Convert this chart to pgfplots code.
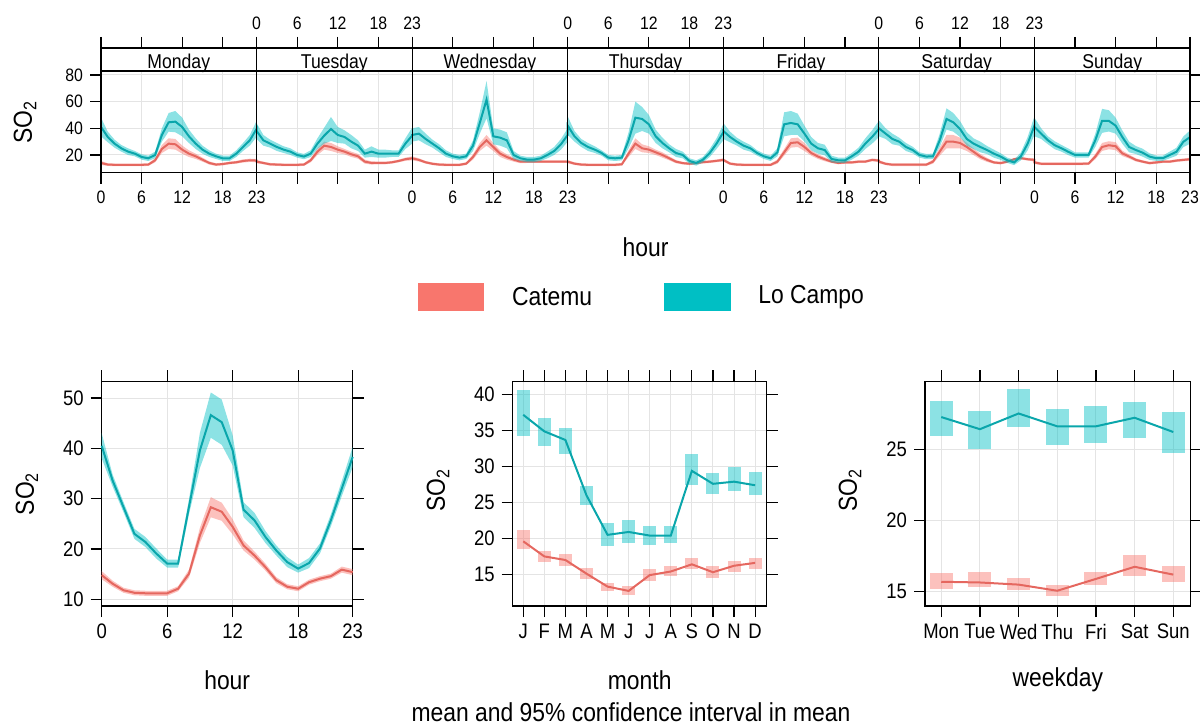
\documentclass[border=0pt]{standalone}
\usepackage{fontspec}
\setmainfont{Liberation Sans}[FakeStretch=0.88]
\usepackage{pgfplots}
\usepackage{pgfplotstable}
\pgfplotsset{compat=1.18}

\definecolor{catemu}{HTML}{F8766D}
\definecolor{catemuline}{HTML}{E5675F}
\definecolor{locampo}{HTML}{00BFC4}
\definecolor{locampoline}{HTML}{0AA6AB}
\definecolor{gridgray}{HTML}{E4E4E4}

\newcommand{\smalltick}{\fontsize{9}{10}\selectfont}
\newcommand{\bigtick}{\fontsize{10.5}{12}\selectfont}
\newcommand{\stripfont}{\fontsize{10}{11}\selectfont}
\newcommand{\labfont}{\fontsize{13}{15}\selectfont}

% week x hour: x = 23*day + hour
\pgfplotstableread{
x lc lce ca cae
0 41 7 14 1.5
1 33.5 4 12.8 1
2 28.5 3 12.6 1
3 25 2.5 12.6 1
4 22.5 2.5 12.6 1
5 21 2 12.6 1
6 18.5 2 12.6 1
7 17.5 2 12.8 1
8 20 2.5 16 1.5
9 35 5 24.5 3
10 44.5 7 28.5 4
11 45 8 28 4
12 41 7 24 3
13 34 5 21 2.5
14 28.5 4 19 2
15 24 3 16.5 1.5
16 21 2.5 14 1.2
17 19 2 12.8 1
18 17.5 2 13.2 1
19 17.5 2 14 1
20 21 2.5 14.5 1
21 26 3 15.5 1.2
22 31 4 16 1.2
23 39.5 6 15.8 1.2
23 38 6 15 1.2
24 31 4 14 1
25 28.5 3 13 1
26 26 3 12.8 1
27 24 2.5 12.6 1
28 22.5 2.5 12.6 1
29 20 2 12.6 1
30 18.8 2 12.8 1
31 21 2.5 16 1.5
32 28.5 4 22.5 2.5
33 34.5 6 27 3
34 39.5 9 26 3
35 35 6 24 2.5
36 33.5 5 22.5 2
37 30 5 20.5 2
38 27 4 19 1.8
39 21 3 15 1.5
40 22.5 4 14 1.2
41 21 3 14 1
42 21 3 14 1
43 21 2.5 14.5 1
44 21 2.5 15.5 1
45 28.5 4 16.8 1.2
46 34.5 6 17.5 1.5
46 35 5 17.5 1.5
47 36 5 16.3 1.2
48 32 4 14.5 1
49 28.5 3 13.4 1
50 25 3 12.8 1
51 21 2.5 12.6 1
52 19 2 12.6 1
53 18 2 12.6 1
54 19 2 13.5 1
55 27 4 18.5 2
56 44 8 26 3
57 61.5 14 31 4
58 34 6 26 3
59 33 6 21 2.5
60 31 6 18.5 2
61 20 3 16.5 1.5
62 17.5 2 15 1.2
63 16.5 2 15 1
64 16.5 2 15 1
65 17.5 2 15 1
66 20 2.5 15 1
67 23 3 15 1
68 28 4 15 1
69 35 5 15 1
69 42 7 15 1.2
70 34 4 13.5 1
71 29 3 12.8 1
72 26 3 12.6 1
73 24 2.5 12.6 1
74 21.5 2 12.6 1
75 18 2 12.6 1
76 17.5 2 12.6 1
77 18 2 13 1
78 31 6 21 2.5
79 48 12 28.5 4
80 47 9 25 3
81 43 7 24 2.5
82 34 5 22 2
83 29 4 20 2
84 25 3 17.5 1.5
85 21.5 3 15 1.2
86 20 2.5 13.9 1
87 15.5 2 13.4 1
88 14 2 13.9 1
89 16.5 2 14.6 1
90 21.5 3 15 1
91 28.5 4 15.6 1
92 37 6 16.3 1.2
92 38 6 16.3 1.2
93 33.5 4 13.5 1
94 30 3 12.8 1
95 27 3 12.6 1
96 25 2.5 12.6 1
97 21.5 2 12.6 1
98 19 2 12.6 1
99 17.5 2 12.6 1
100 22 3 15 1.5
101 43 9 22 2.5
102 44 9 29 3.5
103 43 8 29.5 3.5
104 36 6 26 3
105 28.5 5 21.5 2
106 25 4 18.8 1.8
107 23.7 4 16.8 1.5
108 17 2.5 15 1
109 16 2 14 1
110 16 2 14.4 1
111 19 2.5 14.4 1
112 22.5 3 15 1
113 28.5 4 15 1
114 33.5 5 16.3 1
115 39.5 6 15.8 1.2
115 40 6 15 1.2
116 36 4 13.4 1
117 32 4 12.7 1
118 30 3 12.7 1
119 26 3 12.7 1
120 23.7 2.5 12.7 1
121 20 2 12.7 1
122 18.8 2 12.7 1
123 19 2 15 1.5
124 31 5 22.5 3
125 47 8 30 5
126 44.5 7 30 5
127 39.5 6 29 4
128 32 5 26 3
129 28.5 4 22.4 2.5
130 26 4 18.8 2
131 23.7 3 16.3 1.5
132 21 3 14.4 1
133 18.8 2.5 13.9 1
134 16 2 15 1
135 14.4 2 16.8 1
136 19 3 17.6 1
137 28.5 5 16.8 1
138 42 7 16.3 1.2
138 41 7 14.4 1.2
139 36 4 13.4 1
140 31 3 13.4 1
141 27.3 3 13.4 1
142 25 2.5 13.4 1
143 22.4 2.5 13.4 1
144 20 2 13.4 1
145 20 2 13.4 1
146 20 2 13.5 1
147 31 5 18.8 2
148 45.6 9 26 3
149 45.6 8 27.3 3
150 42 6 26.6 3
151 33.4 5 21.2 2
152 26 4 18.8 1.5
153 23.7 3 16.3 1.2
154 21.7 3 15 1
155 18.8 2.5 13.9 1
156 17.6 2 14.4 1
157 17.6 2 15 1
158 20 2.5 15 1
159 22.4 3 15.8 1
160 29.8 4 16.3 1
161 33.4 5 16.8 1.2
}\week

\pgfplotstableread{
h lc lce ca cae
0 40.5 2.5 14.8 0.8
1 33.6 1.2 13.1 0.6
2 28.3 1 11.8 0.5
3 23 1 11.3 0.5
4 21.4 1 11.2 0.5
5 19.1 1 11.2 0.5
6 17.1 0.8 11.2 0.5
7 17.1 0.8 12.1 0.5
8 28.4 1.5 15.1 0.8
9 39.6 3.5 22.7 1.5
10 46.6 4.5 28.3 2
11 45.2 4.5 27.4 1.8
12 39.6 3 24.4 1.5
13 27.8 1.5 20.7 1
14 25.7 1.5 18.7 0.8
15 22.4 1.2 16.4 0.7
16 19.7 1 13.8 0.6
17 17.4 1 12.5 0.5
18 16.1 0.8 12.1 0.5
19 17.2 1 13.4 0.5
20 20.1 1 14.1 0.5
21 25.7 1.2 14.6 0.5
22 32 1.5 15.9 0.6
23 38.3 2 15.4 0.6
}\hours

\pgfplotstableread{
m lc lclo lchi ca calo cahi
1 37.2 34.3 40.7 19.6 18.5 21.2
2 34.9 32.8 36.8 17.5 16.7 18.2
3 33.7 31.7 35.4 17.0 16.2 17.8
4 26.0 24.7 27.3 15.1 14.4 15.9
5 20.5 19.0 22.2 13.3 12.7 13.8
6 20.9 19.4 22.5 12.7 12.1 13.4
7 20.4 19.1 21.7 14.9 14.1 15.8
8 20.4 19.4 21.7 15.4 14.8 16.2
9 29.4 27.5 31.7 16.4 15.7 17.3
10 27.6 26.2 29.1 15.3 14.5 16.2
11 27.9 26.6 29.9 16.2 15.4 16.9
12 27.4 26.0 29.2 16.6 15.8 17.3
}\months

\pgfplotstableread{
d lc lclo lchi ca calo cahi
1 27.25 25.9 28.4 15.7 15.2 16.3
2 26.4 25.0 27.7 15.65 15.3 16.4
3 27.5 26.55 29.2 15.5 15.1 15.95
4 26.6 25.3 27.8 15.07 14.7 15.5
5 26.6 25.4 28.0 15.9 15.5 16.4
6 27.2 25.8 28.3 16.75 16.1 17.6
7 26.2 24.76 27.6 16.2 15.7 16.8
}\weekdays

\pgfplotsset{
  panel/.style={
    scale only axis, anchor=south west, clip=false, no markers,
    axis line style={line width=0.6pt},
    tick align=outside, major tick length=5.5pt,
    tick style={black, line width=0.6pt},
    grid=major, grid style={gridgray, line width=0.5pt},
    /pgf/number format/assume math mode=true,
    ylabel={SO\textsubscript{2}},
    label style={font=\labfont},
    xlabel style={at={(axis description cs:0.5,-0.33)}, anchor=center},
  },
  bottompanel/.style={panel, height=112.3pt, ticklabel style={font=\bigtick}},
  boxes/.style 2 args={only marks, mark size=0.01pt,
    mark options={draw opacity=0, fill opacity=0}, forget plot,
    error bars/.cd, y dir=both, y explicit, error mark=none,
    error bar style={draw=#1, opacity=0.45, line width=#2}, /pgfplots/.cd},
}

\begin{document}
\begin{tikzpicture}
\useasboundingbox (0,0) rectangle (600pt,362.5pt);

% ---------- top: hour by weekday ----------
\begin{axis}[panel, at={(50.5pt,276.15pt)}, width=544.5pt, height=62.35pt,
  xmin=0, xmax=161, ymin=6.7, ymax=100.25,
  ticklabel style={font=\smalltick},
  xtick={0,6,12,18,23,29,35,41,46,52,58,64,69,75,81,87,92,98,104,110,115,121,127,133,138,144,150,156,161},
  xticklabels={0,6,12,18,23,,,,0,6,12,18,23,,,,0,6,12,18,23,,,,0,6,12,18,23},
  ytick={20,40,60,80},
  xlabel={hour},
  xlabel style={at={(axis description cs:0.5,-0.596)}, anchor=center},
  ylabel style={at={(axis description cs:-0.0698,0.4066)}, anchor=center},
]
% bands as stacked areas: lower edge, then width
\addplot[draw=none, stack plots=y, forget plot] table[x=x, y expr=\thisrow{ca}-\thisrow{cae}] {\week};
\addplot[draw=none, fill=catemu, fill opacity=0.45, stack plots=y, forget plot] table[x=x, y expr=2*\thisrow{cae}] {\week} \closedcycle;
\addplot[catemuline, line width=1pt, forget plot] table[x=x, y=ca] {\week};
\addplot[draw=none, stack plots=y, forget plot] table[x=x, y expr=\thisrow{lc}-\thisrow{lce}-\thisrow{ca}-\thisrow{cae}] {\week};
\addplot[draw=none, fill=locampo, fill opacity=0.45, stack plots=y, forget plot] table[x=x, y expr=2*\thisrow{lce}] {\week} \closedcycle;
\addplot[locampoline, line width=1pt, forget plot] table[x=x, y=lc] {\week};

% strip with day names
\fill[white] (axis cs:0,83) rectangle (axis cs:161,100.25);
\draw[line width=0.6pt] (axis cs:0,83) -- (axis cs:161,83);
\pgfplotsinvokeforeach{23,46,69,92,115,138}{
  \draw[line width=0.6pt] (axis cs:#1,6.7) -- (axis cs:#1,100.25);}
\draw[line width=0.6pt] (axis cs:0,6.7) rectangle (axis cs:161,100.25);
\node[font=\stripfont, anchor=base] at (axis cs:11.5,85) {Monday};
\node[font=\stripfont, anchor=base] at (axis cs:34.5,85) {Tuesday};
\node[font=\stripfont, anchor=base] at (axis cs:57.5,85) {Wednesday};
\node[font=\stripfont, anchor=base] at (axis cs:80.5,85) {Thursday};
\node[font=\stripfont, anchor=base] at (axis cs:103.5,85) {Friday};
\node[font=\stripfont, anchor=base] at (axis cs:126.5,85) {Saturday};
\node[font=\stripfont, anchor=base] at (axis cs:149.5,85) {Sunday};
\end{axis}

% top tick labels of the alternate panels
\begin{axis}[scale only axis, anchor=south west, at={(50.5pt,276.15pt)},
  width=544.5pt, height=62.35pt,
  xmin=0, xmax=161, ymin=6.7, ymax=100.25,
  axis x line*=top, axis y line=none,
  axis line style={line width=0.6pt},
  tick align=outside, major tick length=5.5pt,
  tick style={black, line width=0.6pt},
  ticklabel style={font=\smalltick},
  /pgf/number format/assume math mode=true,
  xtick={23,29,35,41,46,69,75,81,87,92,115,121,127,133,138},
  xticklabels={0,6,12,18,23,0,6,12,18,23,0,6,12,18,23},
]
\addplot[draw=none, forget plot] coordinates {(0,50) (161,50)};
\end{axis}

% legend
\fill[catemu] (208.85pt,207.1pt) rectangle (242pt,220.9pt);
\node[font=\labfont, anchor=west, inner sep=0pt] at (255.85pt,214pt) {Catemu};
\fill[locampo] (332.15pt,207.1pt) rectangle (365.5pt,220.9pt);
\node[font=\labfont, anchor=west, inner sep=0pt] at (379pt,214pt) {Lo Campo};

% ---------- bottom left: hour ----------
\begin{axis}[bottompanel, at={(50.85pt,59.5pt)}, width=125.5pt,
  xmin=0, xmax=23, ymin=8.67, ymax=53.3,
  xtick={0,6,12,18,23}, ytick={10,20,30,40,50},
  xlabel={hour},
  ylabel style={at={(axis description cs:-0.298,0.5)}, anchor=center},
]
\addplot[draw=none, stack plots=y, forget plot] table[x=h, y expr=\thisrow{ca}-\thisrow{cae}] {\hours};
\addplot[draw=none, fill=catemu, fill opacity=0.45, stack plots=y, forget plot] table[x=h, y expr=2*\thisrow{cae}] {\hours} \closedcycle;
\addplot[catemuline, line width=1pt] table[x=h, y=ca] {\hours};
\addplot[draw=none, stack plots=y, forget plot] table[x=h, y expr=\thisrow{lc}-\thisrow{lce}-\thisrow{ca}-\thisrow{cae}] {\hours};
\addplot[draw=none, fill=locampo, fill opacity=0.45, stack plots=y, forget plot] table[x=h, y expr=2*\thisrow{lce}] {\hours} \closedcycle;
\addplot[locampoline, line width=1pt] table[x=h, y=lc] {\hours};
\end{axis}

% ---------- bottom middle: month ----------
\begin{axis}[bottompanel, at={(256.35pt,59.5pt)}, width=127pt,
  xmin=0.5, xmax=12.55, ymin=10.6, ymax=41.85,
  xtick={1,...,12}, xticklabels={J,F,M,A,M,J,J,A,S,O,N,D},
  ytick={15,20,25,30,35,40},
  xlabel={month},
  ylabel style={at={(axis description cs:-0.294,0.517)}, anchor=center},
]
\addplot[boxes={catemu}{6.5pt}]
  table[x=m, y=ca, y error plus expr=\thisrow{cahi}-\thisrow{ca}, y error minus expr=\thisrow{ca}-\thisrow{calo}] {\months};
\addplot[catemuline, line width=1pt] table[x=m, y=ca] {\months};
\addplot[boxes={locampo}{6.5pt}]
  table[x=m, y=lc, y error plus expr=\thisrow{lchi}-\thisrow{lc}, y error minus expr=\thisrow{lc}-\thisrow{lclo}] {\months};
\addplot[locampoline, line width=1pt] table[x=m, y=lc] {\months};
\end{axis}

% ---------- bottom right: weekday ----------
\begin{axis}[bottompanel, at={(462.5pt,59.5pt)}, width=132.85pt,
  xmin=0.58, xmax=7.45, ymin=14.0, ymax=29.75,
  xtick={1,...,7}, xticklabels={Mon,Tue,Wed,Thu,Fri,Sat,Sun},
  ytick={15,20,25},
  xlabel={weekday},
  ylabel style={at={(axis description cs:-0.282,0.517)}, anchor=center},
]
\addplot[boxes={catemu}{11.5pt}]
  table[x=d, y=ca, y error plus expr=\thisrow{cahi}-\thisrow{ca}, y error minus expr=\thisrow{ca}-\thisrow{calo}] {\weekdays};
\addplot[catemuline, line width=1pt] table[x=d, y=ca] {\weekdays};
\addplot[boxes={locampo}{11.5pt}]
  table[x=d, y=lc, y error plus expr=\thisrow{lchi}-\thisrow{lc}, y error minus expr=\thisrow{lc}-\thisrow{lclo}] {\weekdays};
\addplot[locampoline, line width=1pt] table[x=d, y=lc] {\weekdays};
\end{axis}

\node[font=\labfont] at (315.5pt,6.5pt) {mean and 95\% confidence interval in mean};
\end{tikzpicture}
\end{document}
